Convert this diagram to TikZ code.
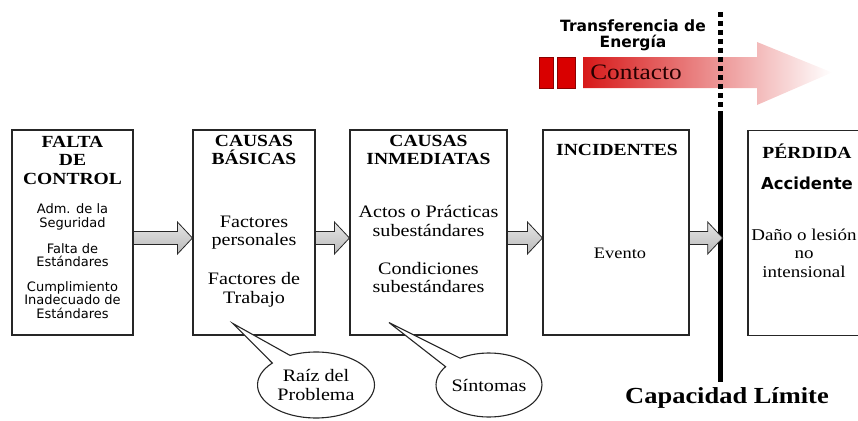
\documentclass[tikz,border=0pt]{standalone}
\usepackage{fontspec}
\setmainfont{Liberation Serif}[FakeStretch=1.15]
\newfontfamily\verd{DejaVu Sans}
\usetikzlibrary{calc,shapes.geometric,shapes.callouts}

\tikzset{
	caja/.style={draw=black!85, line width=1.1pt, fill=white, minimum height=205pt, inner sep=0pt},
	titulo/.style={font=\fontsize{17}{18.5}\selectfont\bfseries, align=center},
	texto/.style={font=\fontsize{17.5}{18.5}\selectfont, align=center},
	chico/.style={font=\verd\fontsize{13}{13.5}\selectfont, align=center},
	flecha/.style={draw=black!85, line width=0.8pt, top color=gray!20, bottom color=gray!55},
	globo/.style={ellipse callout, draw=black!85, line width=1.1pt, fill=white, inner sep=0pt, callout pointer arc=22, font=\fontsize{17.5}{19}\selectfont, align=center},
}

\newcommand{\flechagorda}[2]{%
	\path[flecha] let \p1=($(#1)+(0,5.5)$), \p2=($(#2)+(0,5.5)$) in
		(\x1,\y1+6.5pt) -- (\x2-15pt,\y1+6.5pt) -- (\x2-15pt,\y1+16pt) -- (\x2,\y1)
		-- (\x2-15pt,\y1-16pt) -- (\x2-15pt,\y1-6.5pt) -- (\x1,\y1-6.5pt) -- cycle;}

\begin{document}
\begin{tikzpicture}[x=1pt,y=-1pt]
	\useasboundingbox (0,0) rectangle (858,420);

	\filldraw[fill=red!85!black, draw=red!55!black] (539,57) rectangle (553,88);
	\filldraw[fill=red!85!black, draw=red!55!black] (557,57) rectangle (575,88);
	\shade[left color={rgb,255:red,215;green,25;blue,25}, right color=white]
		(583,57) -- (757,57) -- (757,42) -- (832,72.5) -- (757,105) -- (757,88) -- (583,88) -- cycle;
	\node[font=\fontsize{22}{24}\selectfont, text=black!85!red] (contacto) at (636,72) {Contacto};
	\node[font=\verd\bfseries\fontsize{15.5}{16}\selectfont, align=center] (energia) at (633,35) {Transferencia de\\Energía};

	\node[caja, minimum width=121pt] (b1) at (72.5,232.5) {};
	\node[caja, minimum width=122pt] (b2) at (254,232.5) {};
	\node[caja, minimum width=157pt] (b3) at (428.5,232.5) {};
	\node[caja, minimum width=146pt] (b4) at (616,232.5) {};
	\node[caja, minimum width=124pt] (b5) at (810,233) {};

	\node[fill=black, minimum width=5pt, minimum height=267pt, inner sep=0pt] (linea) at (720,248.5) {};
	\coordinate (tope) at (720,12);
	\draw[line width=5pt, dash pattern=on 5pt off 4pt] (tope) -- (linea.north);

	\flechagorda{b1.east}{b2.west}
	\flechagorda{b2.east}{b3.west}
	\flechagorda{b3.east}{b4.west}
	\flechagorda{b4.east}{linea.east}

	\node[titulo] (t1) at (72.5,160) {FALTA\\DE\\CONTROL};
	\node[chico] (s1a) at (72.5,217) {Adm. de la\\Seguridad};
	\node[chico] (s1b) at (72.5,255) {Falta de\\Estándares};
	\node[chico] (s1c) at (72.5,300) {Cumplimiento\\Inadecuado de\\Estándares};

	\node[titulo] (t2) at (254,150) {CAUSAS\\BÁSICAS};
	\node[texto] (s2a) at (254,232.5) {Factores\\personales};
	\node[texto] (s2b) at (254,290) {Factores de\\Trabajo};

	\node[titulo] (t3) at (428.5,150) {CAUSAS\\INMEDIATAS};
	\node[texto] (s3a) at (428.5,221) {Actos o Prácticas\\subestándares};
	\node[texto] (s3b) at (428.5,277.5) {Condiciones\\subestándares};

	\node[titulo] (t4) at (617,150) {INCIDENTES};
	\node[font=\fontsize{16}{18}\selectfont] (s4) at (620,253) {Evento};

	\node[titulo] (t5) at (807,151) {PÉRDIDA};
	\node[font=\verd\bfseries\fontsize{16.5}{17}\selectfont] (acc) at (807,183) {Accidente};
	\node[texto, font=\fontsize{16.5}{18.5}\selectfont] (s5) at (804,253) {Daño o lesión\\no\\intensional};

	\node[font=\fontsize{23}{25}\selectfont\bfseries] (limite) at (727,398) {Capacidad Límite};

	\coordinate (p1) at ($(b2.south)+(-21,-12)$);
	\coordinate (p2) at ($(b3.south)+(-39.5,-13)$);
	\node[globo, minimum width=117pt, minimum height=66pt, callout absolute pointer={(p1)}] (raiz) at (316,385) {Raíz del\\Problema};
	\node[globo, minimum width=98pt, minimum height=64pt, callout absolute pointer={(p2)}] (sintomas) at (489,385) {Síntomas};
\end{tikzpicture}
\end{document}
